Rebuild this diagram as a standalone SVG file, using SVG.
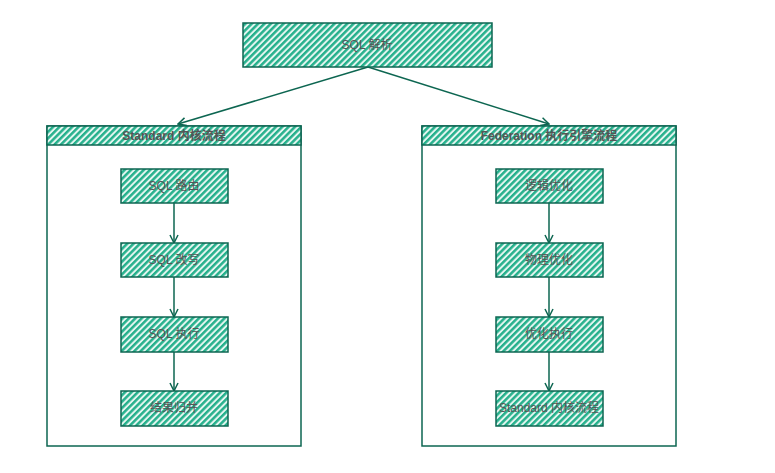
<svg xmlns="http://www.w3.org/2000/svg" width="775" height="473" viewBox="0 0 775 473">
<style>
.t{font-family:"Liberation Sans","Noto Sans CJK SC",sans-serif;font-size:12px;fill:#555;text-anchor:middle;dominant-baseline:central}
.h{font-weight:bold}
.box{fill:url(#hatch);stroke:#0d6651;stroke-width:1.5}
.cont{fill:none;stroke:#0d6651;stroke-width:1.5}
.ln{fill:none;stroke:#0d6651;stroke-width:1.5;marker-end:url(#arr)}
</style>
<defs>
<pattern id="hatch" patternUnits="userSpaceOnUse" width="4.5" height="4.5" patternTransform="rotate(45)">
<rect width="4.5" height="4.5" fill="#e6f6f1"/>
<rect width="2.5" height="4.5" fill="#25b08c"/>
</pattern>
<marker id="arr" viewBox="0 0 10 10" refX="9" refY="5" markerWidth="10" markerHeight="10" markerUnits="userSpaceOnUse" orient="auto">
<path d="M1,1 L9,5 L1,9" fill="none" stroke="#0d6651" stroke-width="1.5"/>
</marker>
</defs>
<rect width="775" height="473" fill="#fff"/>
<g id="connectors">
<path class="ln" d="M368,67 L178,124"/>
<path class="ln" d="M368,67 L549,124"/>
<path class="ln" d="M174,203 L174,243"/>
<path class="ln" d="M174,277 L174,317"/>
<path class="ln" d="M174,352 L174,391"/>
<path class="ln" d="M549,203 L549,243"/>
<path class="ln" d="M549,277 L549,317"/>
<path class="ln" d="M549,352 L549,391"/>
</g>
<g id="sql-parse">
<rect class="box" x="243" y="23" width="249" height="44"/>
<text class="t" x="367" y="45">SQL 解析</text>
</g>
<g id="standard-container">
<rect class="cont" x="47" y="126" width="254" height="320"/>
<rect class="box" x="47" y="126" width="254" height="19"/>
<text class="t h" x="174" y="136">Standard 内核流程</text>
</g>
<g id="federation-container">
<rect class="cont" x="422" y="126" width="254" height="320"/>
<rect class="box" x="422" y="126" width="254" height="19"/>
<text class="t h" x="549" y="136">Federation 执行引擎流程</text>
</g>
<g id="sql-route">
<rect class="box" x="121" y="169" width="107" height="34"/>
<text class="t" x="174" y="186">SQL 路由</text>
</g>
<g id="sql-rewrite">
<rect class="box" x="121" y="243" width="107" height="34"/>
<text class="t" x="174" y="260">SQL 改写</text>
</g>
<g id="sql-execute">
<rect class="box" x="121" y="317" width="107" height="35"/>
<text class="t" x="174" y="334">SQL 执行</text>
</g>
<g id="result-merge">
<rect class="box" x="121" y="391" width="107" height="35"/>
<text class="t" x="174" y="408">结果归并</text>
</g>
<g id="logical-opt">
<rect class="box" x="496" y="169" width="107" height="34"/>
<text class="t" x="549" y="186">逻辑优化</text>
</g>
<g id="physical-opt">
<rect class="box" x="496" y="243" width="107" height="34"/>
<text class="t" x="549" y="260">物理优化</text>
</g>
<g id="opt-execute">
<rect class="box" x="496" y="317" width="107" height="35"/>
<text class="t" x="549" y="334">优化执行</text>
</g>
<g id="standard-flow">
<rect class="box" x="496" y="391" width="107" height="35"/>
<text class="t" x="549" y="408">Standard 内核流程</text>
</g>
</svg>
